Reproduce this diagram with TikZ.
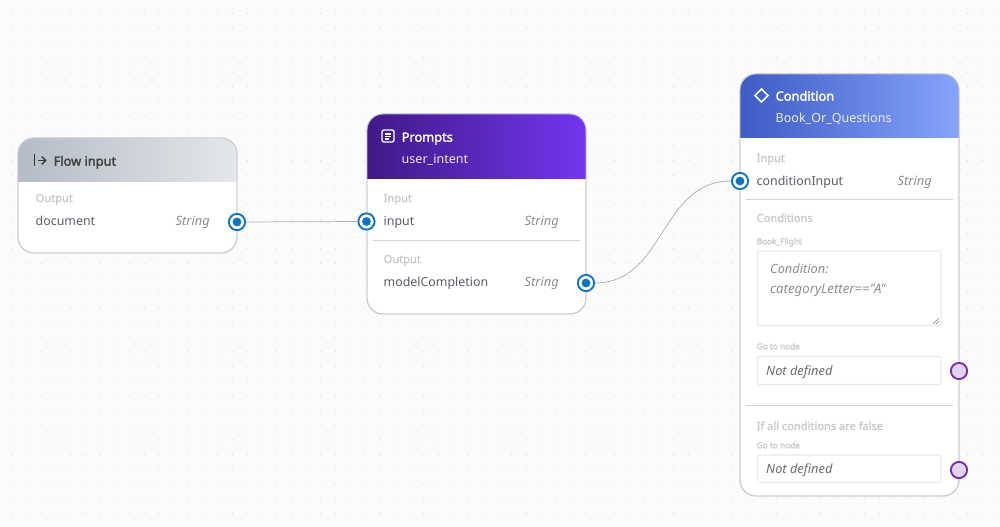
\documentclass[tikz,border=0pt]{standalone}
\usepackage{fontspec}
\usetikzlibrary{arrows.meta}
\setmainfont{Noto Sans}[BoldFont={Noto Sans},BoldFeatures={FakeBold=2.2},BoldItalicFont={Noto Sans Italic}]
\newfontfamily\plainfont{Noto Sans}[Ligatures=NoCommon]
\definecolor{bg}{HTML}{FBFBFB}
\definecolor{dotc}{HTML}{DADADA}
\definecolor{cardline}{HTML}{C6CACF}
\definecolor{lbl}{HTML}{C9CBCD}
\definecolor{txt}{HTML}{5A5F66}
\definecolor{strc}{HTML}{8B8F94}
\definecolor{portb}{HTML}{0F73BE}
\definecolor{portp}{HTML}{7A2EA8}
\definecolor{portf}{HTML}{E3D2F5}
\definecolor{wire}{HTML}{A9B1B8}
\definecolor{flowl}{HTML}{B4BCC6}
\definecolor{flowr}{HTML}{E5E7EA}
\definecolor{prol}{HTML}{3F1A87}
\definecolor{pror}{HTML}{7236EE}
\definecolor{conl}{HTML}{3D5CC6}
\definecolor{conr}{HTML}{86A4FB}
\tikzset{
  x=0.75pt,y=-0.75pt,
  txtbase/.style={anchor=base west,inner sep=0pt,xshift=-0.4pt},
  card/.style={draw=cardline,line width=0.7pt,fill=white,rounded corners=12pt},
  lab/.style={txtbase,yshift=-3pt,font=\fontsize{8.3}{10}\selectfont\bfseries,text=lbl},
  sublab/.style={txtbase,yshift=-2.5pt,font=\fontsize{6.2}{8}\selectfont\bfseries,text=lbl},
  val/.style={txtbase,yshift=-3.75pt,font=\fontsize{9.3}{12}\selectfont,text=txt},
  typ/.style={txtbase,yshift=-3.75pt,font=\fontsize{9.6}{12}\selectfont\itshape,text=strc},
  ttl/.style={txtbase,yshift=-3.5pt,font=\fontsize{9.6}{12}\selectfont\bfseries},
  subttl/.style={txtbase,yshift=-3.3pt,font=\fontsize{9.4}{12}\selectfont},
  field/.style={draw=black!9,line width=0.8pt,fill=white,rounded corners=1.5pt},
  sep/.style={draw=black!17,line width=0.7pt},
  portin/.style={circle,draw=portb,line width=1.4pt,fill=white,minimum size=12.2pt,inner sep=0pt,
    path picture={\fill[portb] (path picture bounding box.center) circle (3.3pt);}},
  portout/.style={circle,draw=portp,line width=1.4pt,fill=portf,minimum size=12.2pt,inner sep=0pt},
  wireline/.style={draw=wire,line width=0.55pt},
}
\begin{document}
\begin{tikzpicture}
\useasboundingbox (0,0) rectangle (1000,527);
\fill[bg] (0,0) rectangle (1000,527);
% dotted canvas
\foreach \i in {0,...,67}{\foreach \j in {0,...,35}{
  \fill[dotc] ({12+\i*14.7},{13.5+\j*14.7}) circle (0.42pt);
}}
% Flow input card
\draw[card] (18,138) rectangle (237,253);
\begin{scope}
\clip[rounded corners=12pt] (18,138) rectangle (237,253);
\shade[left color=flowl,right color=flowr] (18,138) rectangle (237,182);
\end{scope}
\draw[card,fill=none] (18,138) rectangle (237,253);
\node[ttl,text=black!75] (t1) at (54,161) {Flow input};
\draw[line width=1pt,black!80,-{Straight Barb[length=2.8pt,width=6pt]}] (38,160.5) -- (46.5,160.5);
\draw[line width=1pt,black!80] (34.5,154.5) -- (34.5,166.5);
\node[lab] (l1) at (36,198) {Output};
\node[val] (v1) at (36,221) {document};
\node[typ] (s1) at (176,221) {String};
% Prompts card
\draw[card] (367,114) rectangle (586,314);
\begin{scope}
\clip[rounded corners=12pt] (367,114) rectangle (586,314);
\shade[left color=prol,right color=pror] (367,114) rectangle (586,179);
\end{scope}
\draw[card,fill=none] (367,114) rectangle (586,314);
\draw[white,line width=1pt,rounded corners=1.5pt] (382,130) rectangle (394,142);
\draw[white,line width=0.9pt] (385,134) -- (391,134) (385,136.5) -- (391,136.5) (385,139) -- (389,139);
\node[ttl,text=white] (t2) at (402,137) {Prompts};
\node[subttl,text=white!90!violet] (u2) at (402,159) {user\_intent};
\node[lab] (l2) at (384,198) {Input};
\node[val] (v2) at (384,221) {input};
\node[typ] (s2) at (525,221) {String};
\draw[sep] (373,240) -- (580,240);
\node[lab] (l3) at (384,259) {Output};
\node[val] (v3) at (384,282) {modelCompletion};
\node[typ] (s3) at (525,282) {String};
% Condition card
\draw[card] (740,74) rectangle (959,496);
\begin{scope}
\clip[rounded corners=12pt] (740,74) rectangle (959,496);
\shade[left color=conl,right color=conr] (740,74) rectangle (959,138);
\end{scope}
\draw[card,fill=none] (740,74) rectangle (959,496);
\draw[white,line width=1.2pt] (755,95.5) -- (761.5,89) -- (768,95.5) -- (761.5,102) -- cycle;
\node[ttl,text=white] (t3) at (776,96) {Condition};
\node[subttl,text=white!92!blue] (u3) at (776,118) {Book\_Or\_Questions};
\node[lab] (l4) at (757,158) {Input};
\node[val] (v4) at (757,181) {conditionInput};
\node[typ] (s4) at (898,181) {String};
\draw[sep] (746,199.5) -- (953,199.5);
\node[lab] (l5) at (757,218) {Conditions};
\node[sublab] (l6) at (757,241) {Book\_Flight};
\draw[field] (757.5,251) rectangle (941,325.5);
\node[typ] (c1) at (770.5,269) {Condition:};
\node[typ,font=\fontsize{9.9}{12}\plainfont\itshape] (c2) at (770.5,289) {categoryLetter=="A"};
\draw[black!50,line width=0.4pt] (933,324) -- (939,318) (936,324) -- (939,321);
\node[sublab] (l7) at (757,346) {Go to node};
\draw[field] (757.5,356.5) rectangle (941,384.5);
\node[typ,text=black!58] (n1) at (766.5,370.5) {Not defined};
\draw[sep] (746,405) -- (953,405);
\node[lab] (l8) at (757,426) {If all conditions are false};
\node[sublab] (l9) at (757,445) {Go to node};
\draw[field] (757.5,455) rectangle (941,482.5);
\node[typ,text=black!58] (n2) at (766.5,468.5) {Not defined};
% ports
\node[portin] (p1) at (237,222) {};
\node[portin] (p2) at (366.5,221.5) {};
\node[portin] (p3) at (586,283) {};
\node[portin] (p4) at (740,181) {};
\node[portout] (p5) at (959,371) {};
\node[portout] (p6) at (959,470) {};
% wires
\draw[wireline] (p1) -- (p2);
\draw[wireline] (p3) .. controls (665,283) and (660,181) .. (p4);
\end{tikzpicture}
\end{document}
